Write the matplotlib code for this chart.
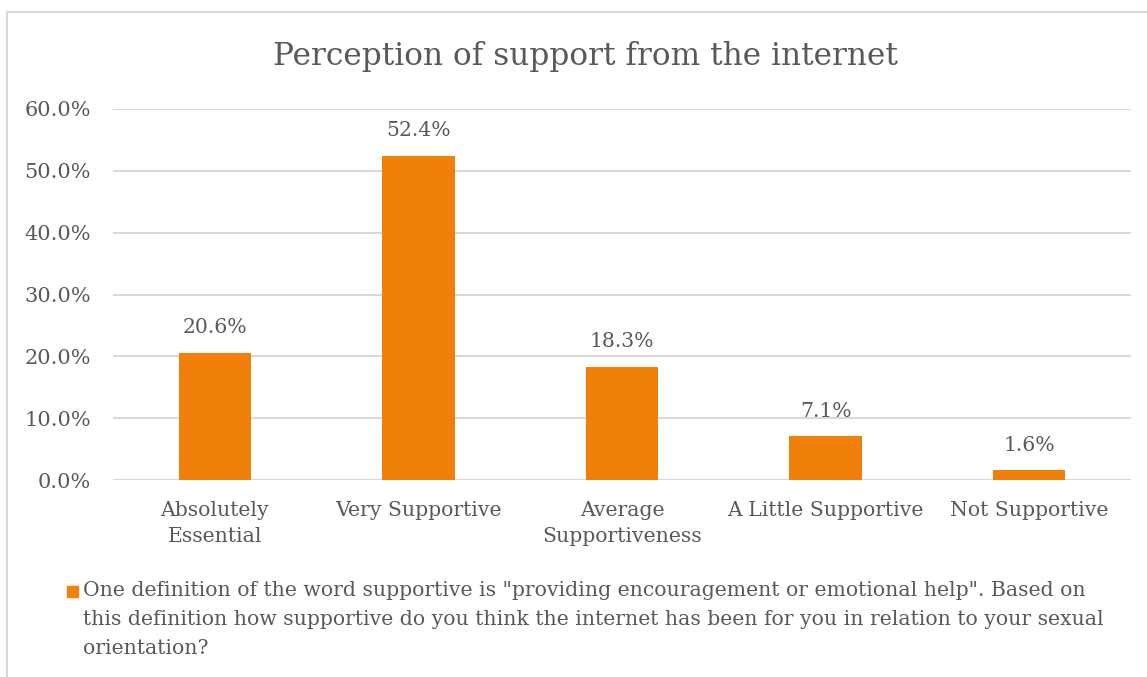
import matplotlib
matplotlib.use("Agg")
import matplotlib.pyplot as plt
from matplotlib.lines import Line2D
from matplotlib.patches import Rectangle

categories = ["Absolutely\nEssential", "Very Supportive", "Average\nSupportiveness",
              "A Little Supportive", "Not Supportive"]
values = [20.6, 52.4, 18.3, 7.1, 1.6]
yticks = [0, 10, 20, 30, 40, 50, 60]
title = "Perception of support from the internet"
legend_lines = [
    'One definition of the word supportive is "providing encouragement or emotional help". Based on',
    'this definition how supportive do you think the internet has been for you in relation to your sexual',
    'orientation?',
]

W, H = 1147, 677
bar_color = "#F0800A"
text_color = "#595959"
grid_color = "#D9D9D9"
font = ["DejaVu Serif"]

plt.rcParams["font.family"] = font
fig = plt.figure(figsize=(W / 100, H / 100), dpi=100)

# chart frame
fig.add_artist(Line2D([7 / W, 1], [1 - 12 / H, 1 - 12 / H], color=grid_color, lw=1.5))
fig.add_artist(Line2D([7 / W, 7 / W], [0, 1 - 12 / H], color=grid_color, lw=1.5))

x0, x1, y0, y1 = 113, 1131, 480, 109
ax = fig.add_axes([x0 / W, 1 - y0 / H, (x1 - x0) / W, (y0 - y1) / H])
pos = range(len(values))
ax.bar(pos, values, width=0.355, color=bar_color, zorder=3)
ax.set_xlim(-0.5, len(values) - 0.5)
ax.set_ylim(0, 60)
ax.set_yticks(yticks)
ax.set_yticklabels([f"{t:.1f}%" for t in yticks], fontsize=15, color=text_color)
ax.set_xticks(list(pos))
ax.set_xticklabels(categories, fontsize=14.7, color=text_color, linespacing=1.5)
ax.tick_params(length=0)
ax.tick_params(axis="y", pad=16)
ax.tick_params(axis="x", pad=15)
for s in ax.spines.values():
    s.set_visible(False)
ax.yaxis.grid(True, color=grid_color, lw=1.5, zorder=0)
for p, v in zip(pos, values):
    ax.annotate(f"{v:.1f}%", (p, v), xytext=(0, 18), textcoords="offset points",
                ha="center", va="center", fontsize=14.7, color=text_color)

fig.text(585 / W, 1 - 57 / H, title, ha="center", va="center", fontsize=22.5, color=text_color)

# legend
fig.add_artist(Rectangle((67 / W, 1 - 597 / H), 11 / W, 11 / H, color=bar_color))
for i, line in enumerate(legend_lines):
    fig.text(83 / W, 1 - (591 + i * 28.5) / H, line, ha="left", va="center",
             fontsize=14.65, color=text_color)

fig.savefig("out.png", dpi=100)
